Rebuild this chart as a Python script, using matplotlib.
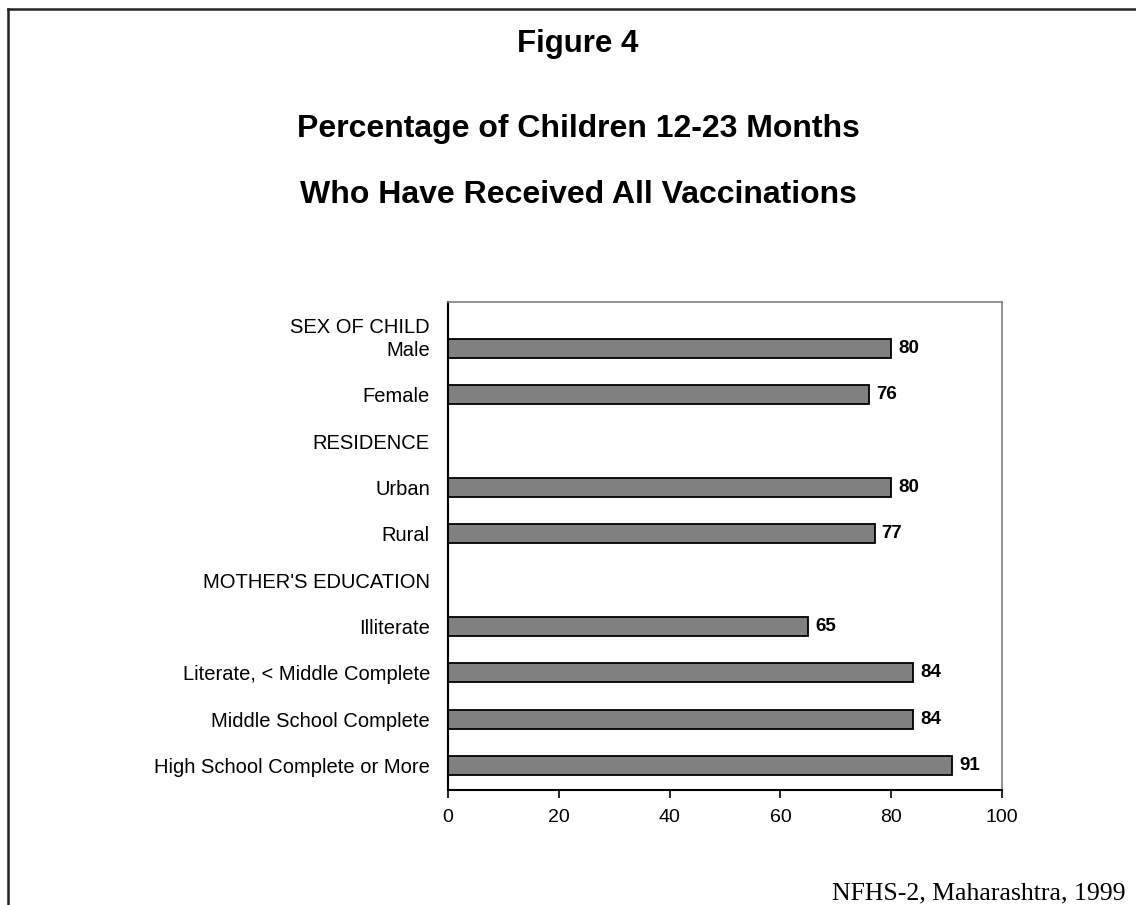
import matplotlib.pyplot as plt
from matplotlib.lines import Line2D

plt.rcParams['font.family'] = ['Liberation Sans', 'DejaVu Sans']

labels = ["SEX OF CHILD", "Male", "Female", "RESIDENCE", "Urban", "Rural",
          "MOTHER'S EDUCATION", "Illiterate", "Literate, < Middle Complete",
          "Middle School Complete", "High School Complete or More"]
values = [None, 80, 76, None, 80, 77, None, 65, 84, 84, 91]
xticks = [0, 20, 40, 60, 80, 100]

W, H = 1136, 905
fig = plt.figure(figsize=(W / 100, H / 100), dpi=100)

# outer frame (runs off the right and bottom edge of the page)
fig.add_artist(Line2D([8 / W, 1.0], [1 - 9 / H, 1 - 9 / H], color='#222222', lw=1.8))
fig.add_artist(Line2D([8 / W, 8 / W], [1 - 9 / H, 0.0], color='#222222', lw=1.8))

fig.text(578 / W, 1 - 52 / H, "Figure 4", ha='center', va='baseline',
         fontsize=22.5, fontweight='bold')
fig.text(578 / W, 1 - 137 / H, "Percentage of Children 12-23 Months", ha='center',
         va='baseline', fontsize=23, fontweight='bold')
fig.text(578 / W, 1 - 203 / H, "Who Have Received All Vaccinations", ha='center',
         va='baseline', fontsize=23, fontweight='bold')

ax = fig.add_axes([448 / W, 1 - 790 / H, (1002 - 448) / W, (790 - 302) / H])

# row positions: first header sits half a row above the first bar
ypos = list(range(len(labels)))
ypos[0] = 0.5

for y, v in zip(ypos, values):
    if v is None:
        continue
    ax.barh(y, v, height=0.41, color='#808080', edgecolor='black', linewidth=1.3)
    ax.annotate(str(v), (v, y), xytext=(5, 0), textcoords='offset points',
                ha='left', va='center', fontsize=13.5, fontweight='bold')

ax.set_xlim(0, 100)
ax.set_ylim(10.53, 0)
ax.set_xticks(xticks)
ax.set_yticks(ypos)
ax.set_yticklabels(labels)
ax.tick_params(axis='y', length=0, pad=13, labelsize=14.5)
ax.tick_params(axis='x', length=6, width=1.2, direction='out', pad=8, labelsize=14)

for side in ['left', 'bottom']:
    ax.spines[side].set_color('black')
    ax.spines[side].set_linewidth(1.5)
for side in ['top', 'right']:
    ax.spines[side].set_color('#808080')
    ax.spines[side].set_linewidth(1.2)

fig.text(1126 / W, 1 - 899 / H, "NFHS-2, Maharashtra, 1999", ha='right', va='baseline',
         fontsize=18.5, family=['Liberation Serif', 'DejaVu Serif'])

fig.savefig('out.png', dpi=100)
